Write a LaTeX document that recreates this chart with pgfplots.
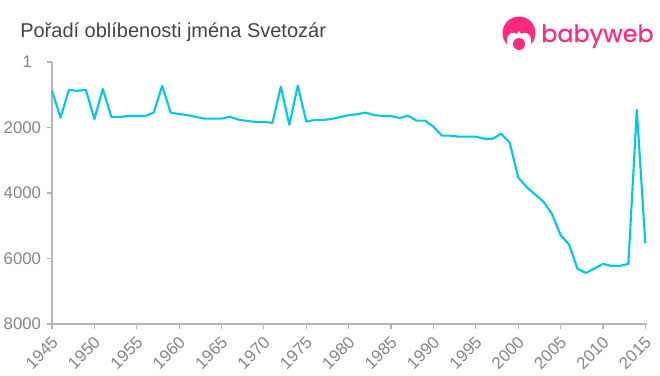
\documentclass[border=0pt]{standalone}
\usepackage{pgfplots}
\pgfplotsset{compat=1.18}
\usepackage{fontspec}
\setmainfont{Liberation Sans}
\newfontfamily\logofont[FakeBold=0.5]{Poppins}
\definecolor{linec}{HTML}{00C8EA}
\definecolor{axisc}{HTML}{B5B5B5}
\definecolor{labc}{HTML}{858585}
\definecolor{titlec}{HTML}{444444}
\definecolor{logoc}{HTML}{FF2A7F}
\begin{document}
\begin{tikzpicture}[x=0.75pt,y=-0.75pt]
\path[use as bounding box] (0,0) rectangle (660,375);
\begin{axis}[
  at={(39pt,-243pt)}, anchor=south west,
  scale only axis, width=446.25pt, height=196.5pt,
  axis lines=left, axis line style={axisc,line width=1.5pt,-},
  x axis line style={-}, y axis line style={-},
  y dir=reverse,
  xmin=1945, xmax=2015.2, ymin=1, ymax=8000,
  xtick={1945,1950,...,2015},
  ytick={1,2000,4000,6000,8000},
  yticklabels={1\hspace*{6.75pt},2000,4000,6000,8000},
  xticklabel style={rotate=45,anchor=north east,font=\fontsize{12.6pt}{14pt}\selectfont,text=labc,inner sep=1.5pt,yshift=-1.2pt,xshift=-2.6pt},
  yticklabel style={font=\fontsize{12.6pt}{14pt}\selectfont,text=labc,inner sep=2pt,xshift=-2.5pt},
  /pgf/number format/assume math mode=true,
  /pgf/number format/1000 sep={},
  tick style={axisc,line width=0.9pt},
  tick align=outside, major tick length=3.5pt,
  xtick pos=lower, ytick pos=left,
  clip=false,
]
\addplot[linec,line width=1.6pt,line join=round] coordinates {
(1945,875)(1946,1700)(1947,854)(1948,880)(1949,854)(1950,1740)(1951,824)(1952,1677)(1953,1677)(1954,1650)
(1955,1650)(1956,1650)(1957,1545)(1958,732)(1959,1545)(1960,1590)(1961,1620)(1962,1677)(1963,1730)(1964,1730)
(1965,1730)(1966,1670)(1967,1760)(1968,1800)(1969,1830)(1970,1830)(1971,1860)(1972,752)(1973,1920)(1974,722)
(1975,1820)(1976,1770)(1977,1770)(1978,1740)(1979,1680)(1980,1627)(1981,1595)(1982,1546)(1983,1620)(1984,1650)
(1985,1650)(1986,1710)(1987,1640)(1988,1790)(1989,1790)(1990,1975)(1991,2250)(1992,2250)(1993,2280)(1994,2280)
(1995,2280)(1996,2345)(1997,2345)(1998,2190)(1999,2465)(2000,3525)(2001,3820)(2002,4045)(2003,4270)(2004,4645)
(2005,5285)(2006,5570)(2007,6315)(2008,6440)(2009,6305)(2010,6165)(2011,6225)(2012,6225)(2013,6165)(2014,1464)(2015,5530)};
\end{axis}
\node[anchor=base west,inner sep=0,text=titlec,font=\fontsize{15pt}{18pt}\selectfont] at (20,37) {Pořadí oblíbenosti jména Svetozár};
% logo
\fill[logoc] (519,33) circle[radius=16.5];
\fill[white] (507,41) .. controls (507,33) and (513,31) .. (517,34) -- (519,31) -- (521,34) .. controls (525,31) and (531,33) .. (531,41) -- (531,50) -- (507,50) -- cycle;
\fill[logoc] (519,44) circle[radius=6];
\node[anchor=base west,inner sep=0,text=logoc,font=\logofont\fontsize{17.9pt}{22pt}\selectfont] at (541,42) {babyweb};
\end{tikzpicture}
\end{document}
